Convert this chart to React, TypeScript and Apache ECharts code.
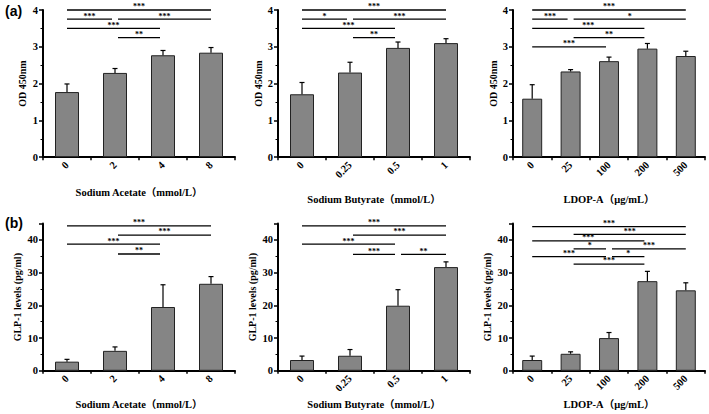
import React, { useEffect, useRef } from "react";
import * as echarts from "echarts";

// Categories (tick labels)
const acetateDoses = ["0", "2", "4", "8"];
const butyrateDoses = ["0", "0.25", "0.5", "1"];
const ldopDoses = ["0", "25", "100", "200", "500"];

// OD 450nm (row a)
const acetateOD = [1.77, 2.29, 2.77, 2.84];
const acetateODErr = [0.22, 0.12, 0.13, 0.14];
const butyrateOD = [1.71, 2.3, 2.97, 3.1];
const butyrateODErr = [0.32, 0.28, 0.16, 0.12];
const ldopOD = [1.59, 2.33, 2.61, 2.95, 2.75];
const ldopODErr = [0.38, 0.05, 0.11, 0.14, 0.13];

// GLP-1 levels (row b)
const acetateGLP = [2.8, 6.1, 19.5, 26.6];
const acetateGLPErr = [0.7, 1.2, 6.8, 2.2];
const butyrateGLP = [3.3, 4.6, 19.9, 31.7];
const butyrateGLPErr = [1.2, 1.9, 4.9, 1.6];
const ldopGLP = [3.3, 5.2, 10.0, 27.4, 24.6];
const ldopGLPErr = [1.2, 0.6, 1.7, 3.0, 2.3];

// Significance brackets: [fromIndex, toIndex, level, label]
type Sig = [number, number, number, string];
const acetateODSig: Sig[] = [
  [0, 3, 4.0, "***"],
  [0, 1, 3.75, "***"],
  [1, 3, 3.75, "***"],
  [0, 2, 3.5, "***"],
  [1, 2, 3.25, "**"],
];
const butyrateODSig: Sig[] = [
  [0, 3, 4.0, "***"],
  [0, 1, 3.75, "*"],
  [1, 3, 3.75, "***"],
  [0, 2, 3.5, "***"],
  [1, 2, 3.25, "**"],
];
const ldopODSig: Sig[] = [
  [0, 4, 4.0, "***"],
  [0, 1, 3.75, "***"],
  [1, 4, 3.75, "*"],
  [0, 3, 3.5, "***"],
  [1, 3, 3.25, "**"],
  [0, 2, 3.0, "***"],
];
const acetateGLPSig: Sig[] = [
  [0, 3, 44.3, "***"],
  [1, 3, 41.5, "***"],
  [0, 2, 38.7, "***"],
  [1, 2, 35.7, "**"],
];
const butyrateGLPSig: Sig[] = [
  [0, 3, 44.3, "***"],
  [1, 3, 41.5, "***"],
  [0, 2, 38.7, "***"],
  [1, 2, 35.6, "***"],
  [2, 3, 35.6, "**"],
];
const ldopGLPSig: Sig[] = [
  [0, 4, 44.1, "***"],
  [1, 4, 41.7, "***"],
  [0, 3, 39.7, "***"],
  [1, 2, 37.3, "*"],
  [2, 4, 37.3, "***"],
  [0, 2, 34.9, "***"],
  [2, 3, 34.9, "*"],
  [1, 3, 32.6, "***"],
];

const SERIF = '"Liberation Serif", "Times New Roman", "Noto Sans CJK SC", serif';

interface PanelDef {
  left: number;
  top: number;
  cats: string[];
  values: number[];
  errs: number[];
  sigs: Sig[];
  yMax: number;
  yInterval: number;
  yName: string;
  xName: string;
  xNameGap: number;
  yNameGap: number;
  barWidth: string;
}

const panels: PanelDef[] = [
  { left: 43, top: 10, cats: acetateDoses, values: acetateOD, errs: acetateODErr, sigs: acetateODSig, yMax: 4, yInterval: 1, yName: "OD 450nm", xName: "Sodium Acetate（mmol/L）", xNameGap: 30, yNameGap: 16, barWidth: "50%" },
  { left: 278, top: 10, cats: butyrateDoses, values: butyrateOD, errs: butyrateODErr, sigs: butyrateODSig, yMax: 4, yInterval: 1, yName: "OD 450nm", xName: "Sodium Butyrate（mmol/L）", xNameGap: 37, yNameGap: 15, barWidth: "50%" },
  { left: 513, top: 10, cats: ldopDoses, values: ldopOD, errs: ldopODErr, sigs: ldopODSig, yMax: 4, yInterval: 1, yName: "OD 450nm", xName: "LDOP-A（μg/mL）", xNameGap: 37, yNameGap: 15, barWidth: "52%" },
  { left: 43, top: 223.6, cats: acetateDoses, values: acetateGLP, errs: acetateGLPErr, sigs: acetateGLPSig, yMax: 45, yInterval: 10, yName: "GLP-1 levels (pg/ml)", xName: "Sodium Acetate（mmol/L）", xNameGap: 28, yNameGap: 21, barWidth: "50%" },
  { left: 278, top: 223.6, cats: butyrateDoses, values: butyrateGLP, errs: butyrateGLPErr, sigs: butyrateGLPSig, yMax: 45, yInterval: 10, yName: "GLP-1 levels (pg/ml)", xName: "Sodium Butyrate（mmol/L）", xNameGap: 28, yNameGap: 21, barWidth: "50%" },
  { left: 513, top: 223.6, cats: ldopDoses, values: ldopGLP, errs: ldopGLPErr, sigs: ldopGLPSig, yMax: 45, yInterval: 10, yName: "GLP-1 levels (pg/ml)", xName: "LDOP-A（μg/mL）", xNameGap: 28, yNameGap: 21, barWidth: "52%" },
];

function buildOption() {
  const grid: any[] = [];
  const xAxis: any[] = [];
  const yAxis: any[] = [];
  const series: any[] = [];

  panels.forEach((p, i) => {
    grid.push({ left: p.left, top: p.top, width: 192, height: 147.2 });
    xAxis.push({
      type: "category",
      gridIndex: i,
      data: p.cats,
      axisLine: { lineStyle: { color: "#000", width: 2 } },
      axisTick: { show: true, length: 3, lineStyle: { color: "#000", width: 1.5 } },
      axisLabel: { rotate: 45, margin: 6, fontFamily: SERIF, fontWeight: "bold", fontSize: 10.5, color: "#000", interval: 0 },
      splitLine: { show: false },
      name: p.xName,
      nameLocation: "middle",
      nameGap: p.xNameGap,
      nameTextStyle: { fontFamily: SERIF, fontWeight: "bold", fontSize: 10.5, color: "#000" },
    });
    yAxis.push({
      type: "value",
      gridIndex: i,
      min: 0,
      max: p.yMax,
      interval: p.yInterval,
      axisLine: { show: true, lineStyle: { color: "#000", width: 2 } },
      axisTick: { show: true, length: 4, lineStyle: { color: "#000", width: 1.5 } },
      minorTick: { show: true, splitNumber: 2, length: 2.5, lineStyle: { color: "#000", width: 1 } },
      splitLine: { show: false },
      axisLabel: {
        fontFamily: SERIF,
        fontWeight: "bold",
        fontSize: 10.5,
        color: "#000",
        margin: 5,
        showMaxLabel: p.yMax === 4,
      },
      name: p.yName,
      nameLocation: "middle",
      nameGap: p.yNameGap,
      nameRotate: 90,
      nameTextStyle: { fontFamily: SERIF, fontWeight: "bold", fontSize: 10, color: "#000" },
    });

    series.push({
      type: "bar",
      xAxisIndex: i,
      yAxisIndex: i,
      data: p.values,
      barWidth: p.barWidth,
      itemStyle: { color: "#858585", borderColor: "#222", borderWidth: 1 },
      z: 2,
    });

    // significance brackets + error bars in one custom series
    const sigs = p.sigs;
    const values = p.values;
    const errs = p.errs;
    const n = p.cats.length;
    const data: number[][] = [
      ...sigs.map((s) => [s[0], s[1], s[2]]),
      ...values.map((v, k) => [k, k, v + errs[k]]),
    ];
    series.push({
      type: "custom",
      xAxisIndex: i,
      yAxisIndex: i,
      data,
      encode: { x: [0, 1], y: 2 },
      z: 4,
      renderItem: (params: any, api: any) => {
        const idx = params.dataIndex;
        if (idx < sigs.length) {
          const s = sigs[idx];
          const a = api.coord([s[0], s[2]]);
          const b = api.coord([s[1], s[2]]);
          const inset = 3;
          const x1 = a[0] + (s[0] > 0 ? inset : 0);
          const x2 = b[0] - (s[1] < n - 1 ? inset : 0);
          return {
            type: "group",
            children: [
              { type: "line", shape: { x1, y1: a[1], x2, y2: a[1] }, style: { stroke: "#000", lineWidth: 1.3 } },
              {
                type: "text",
                x: (x1 + x2) / 2,
                y: a[1] - 3.2,
                style: { text: s[3], align: "center", verticalAlign: "middle", lineHeight: 5, fontFamily: SERIF, fontWeight: "bold", fontSize: 8, fill: "#000" },
              },
            ],
          };
        }
        const k = idx - sigs.length;
        const base = api.coord([k, values[k]]);
        const top = api.coord([k, values[k] + errs[k]]);
        const hw = 2.5;
        return {
          type: "group",
          children: [
            { type: "line", shape: { x1: base[0], y1: base[1], x2: top[0], y2: top[1] }, style: { stroke: "#000", lineWidth: 1.2 } },
            { type: "line", shape: { x1: top[0] - hw, y1: top[1], x2: top[0] + hw, y2: top[1] }, style: { stroke: "#000", lineWidth: 1.2 } },
          ],
        };
      },
    });
  });

  return {
    animation: false,
    backgroundColor: "#fff",
    grid,
    xAxis,
    yAxis,
    series,
    graphic: [
      { type: "text", left: 5, top: 4, style: { text: "(a)", fontFamily: '"Liberation Sans", Arial, sans-serif', fontWeight: "bold", fontSize: 14, fill: "#000" } },
      { type: "text", left: 5, top: 216, style: { text: "(b)", fontFamily: '"Liberation Sans", Arial, sans-serif', fontWeight: "bold", fontSize: 14, fill: "#000" } },
    ],
  };
}

export default function App() {
  const ref = useRef<HTMLDivElement>(null);
  useEffect(() => {
    document.body.style.margin = "0";
    if (!ref.current) return;
    const chart = echarts.init(ref.current, undefined, { renderer: "svg" });
    chart.setOption(buildOption() as any);
    return () => chart.dispose();
  }, []);
  return <div ref={ref} style={{ width: 709, height: 414, position: "absolute", left: 0, top: 0 }} />;
}
